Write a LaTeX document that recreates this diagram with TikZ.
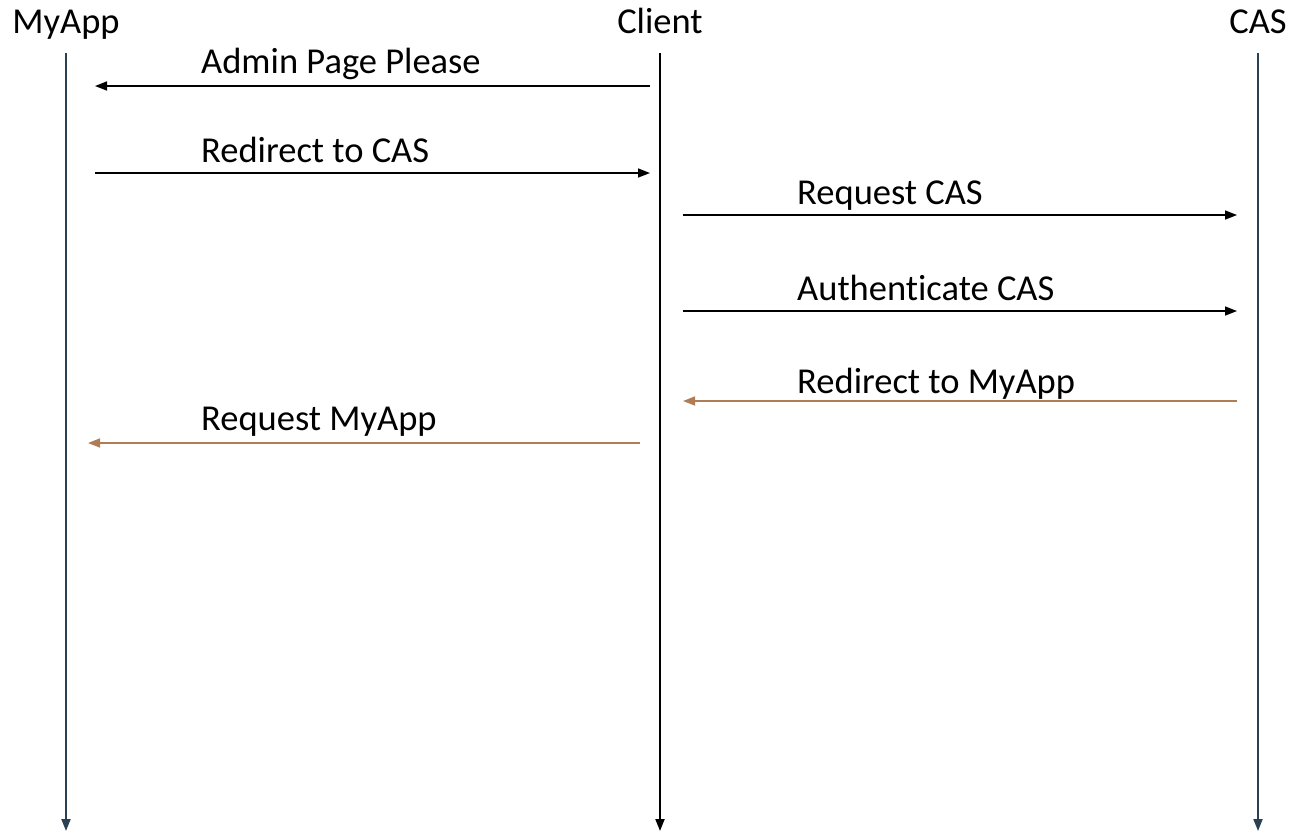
\documentclass[tikz,border=0pt]{standalone}
\usepackage{fontspec}
\setmainfont{Carlito}[Ligatures=CommonOff]
\usepackage{tikz}
\usetikzlibrary{arrows.meta,positioning}
\definecolor{lifeslate}{HTML}{2B4152}
\definecolor{msgbrown}{HTML}{B07C55}
\tikzset{
actor/.style={
anchor=base,
inner sep=0pt,
font=\fontsize{36.5}{40}\selectfont
},
msglabel/.style={
anchor=base west,
inner sep=0pt,
font=\fontsize{36.5}{40}\selectfont
},
lifeline/.style={
-{Triangle[length=12pt,width=9pt]},
line width=2pt
},
msg/.style={
-{Triangle[length=12pt,width=9pt]},
line width=1.6pt
}
}
\begin{document}
\begin{tikzpicture}[x=1pt,y=-1pt]
\useasboundingbox (0,0) rectangle (1292,833);

\node[actor](myapp) at (66,33){MyApp};
\node[actor](client) at (660,33){Client};
\node[actor](cas) at (1258,33){CAS};

\foreach \n/\x/\c in {myapp/66/lifeslate,client/660/black,cas/1258/lifeslate}{
\coordinate(\n top) at (\x,53);
\coordinate(\n bot) at (\x,831);
\draw[lifeline,\c](\n top)--(\n bot);
}

% message end points
\coordinate(m1a) at (650,86);  \coordinate(m1b) at (95,86);
\coordinate(m2a) at (95,173);  \coordinate(m2b) at (650,173);
\coordinate(m3a) at (683,215); \coordinate(m3b) at (1237,215);
\coordinate(m4a) at (683,311); \coordinate(m4b) at (1237,311);
\coordinate(m5a) at (1237,401);\coordinate(m5b) at (683,401);
\coordinate(m6a) at (640,443); \coordinate(m6b) at (88,443);

\foreach \m in {m1,m2,m3,m4}
\draw[msg](\m a)--(\m b);
\foreach \m in {m5,m6}
\draw[msg,msgbrown](\m a)--(\m b);

\node[msglabel](l1) at (201,73){Admin Page Please};
\node[msglabel](l2) at (201,162){Redirect to CAS};
\node[msglabel](l3) at (797,204){Request CAS};
\node[msglabel](l4) at (797,300){Authenticate CAS};
\node[msglabel](l5) at (797,393){Redirect to MyApp};
\node[msglabel](l6) at (201,430){Request MyApp};
\end{tikzpicture}
\end{document}
